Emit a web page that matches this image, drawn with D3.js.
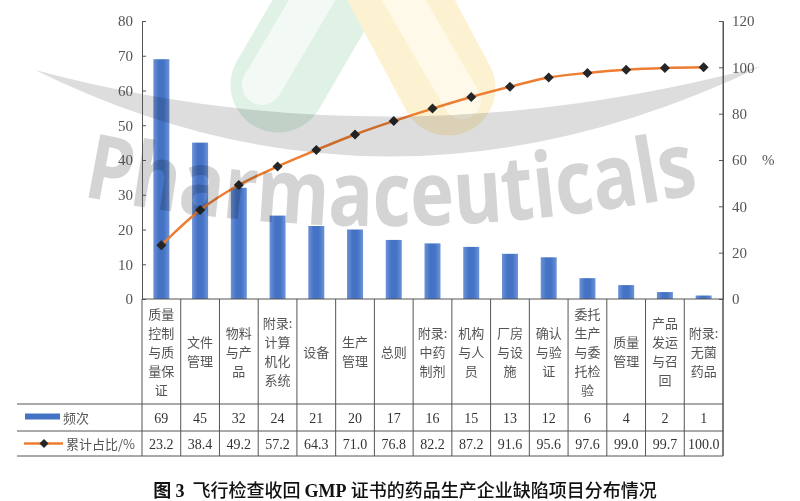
<!DOCTYPE html>
<html>
<head>
<meta charset="utf-8">
<script src="https://cdn.jsdelivr.net/npm/d3@7"></script>
<style>
  body { margin: 0; background: #fff; }
  svg { display: block; }
</style>
</head>
<body>
<div id="canvas"></div>
<script>
// category labels, already broken into the lines shown in the table
const categories = [
    ["质量", "控制", "与质", "量保", "证"],
    ["文件", "管理"],
    ["物料", "与产", "品"],
    ["附录:", "计算", "机化", "系统"],
    ["设备"],
    ["生产", "管理"],
    ["总则"],
    ["附录:", "中药", "制剂"],
    ["机构", "与人", "员"],
    ["厂房", "与设", "施"],
    ["确认", "与验", "证"],
    ["委托", "生产", "与委", "托检", "验"],
    ["质量", "管理"],
    ["产品", "发运", "与召", "回"],
    ["附录:", "无菌", "药品"]
];
const freq = [69, 45, 32, 24, 21, 20, 17, 16, 15, 13, 12, 6, 4, 2, 1];
const cumPct = [23.2, 38.4, 49.2, 57.2, 64.3, 71.0, 76.8, 82.2, 87.2, 91.6, 95.6, 97.6, 99.0, 99.7, 100.0];
const leftTicks = [0, 10, 20, 30, 40, 50, 60, 70, 80];
const rightTicks = [0, 20, 40, 60, 80, 100, 120];
const seriesNames = ["频次", "累计占比/%"];

const width = 800;
const height = 501;
const margin = { top: 21, left: 142, right: 77, bottom: 202 };
const plotRight = width - margin.right;
const plotBottom = height - margin.bottom;
const rowTop = [plotBottom, 404, 431, 456];
const tableLeft = 17;

const serif = "'Liberation Serif', 'DejaVu Serif', serif";
const cjk = "'Noto Sans CJK SC', sans-serif";

const svg = d3.select("#canvas").append("svg")
    .attr("width", width)
    .attr("height", height);

const defs = svg.append("defs");
const grad = defs.append("linearGradient").attr("id", "barGrad")
    .attr("x1", "0%").attr("x2", "100%").attr("y1", "0%").attr("y2", "0%");
grad.append("stop").attr("offset", "0%").attr("stop-color", "#6c93d8");
grad.append("stop").attr("offset", "35%").attr("stop-color", "#4472c4");
grad.append("stop").attr("offset", "65%").attr("stop-color", "#4472c4");
grad.append("stop").attr("offset", "100%").attr("stop-color", "#6c93d8");

// background logo shapes (watermark)
const wm = svg.append("g");
wm.append("line").attr("x1", 278).attr("y1", 85).attr("x2", 345).attr("y2", -30)
    .attr("stroke", "#e0f1e6").attr("stroke-width", 95).attr("stroke-linecap", "round");
wm.append("line").attr("x1", 262).attr("y1", 85).attr("x2", 318).attr("y2", -10)
    .attr("stroke", "#f3faf6").attr("stroke-width", 40).attr("stroke-linecap", "round");
wm.append("line").attr("x1", 385).attr("y1", -30).attr("x2", 448).attr("y2", 88)
    .attr("stroke", "#fcf2d2").attr("stroke-width", 95).attr("stroke-linecap", "round");
wm.append("line").attr("x1", 392).attr("y1", -20).attr("x2", 462).attr("y2", 100)
    .attr("stroke", "#fef9e8").attr("stroke-width", 38).attr("stroke-linecap", "round");

const x = d3.scaleBand()
    .domain(d3.range(categories.length))
    .range([margin.left, plotRight]);

const yL = d3.scaleLinear().domain([0, 80]).range([plotBottom, margin.top]);
const yR = d3.scaleLinear().domain([0, 120]).range([plotBottom, margin.top]);

// bars
const barW = 16;
svg.append("g").selectAll("rect").data(freq).enter().append("rect")
    .attr("x", (d, i) => x(i) + x.bandwidth() / 2 - barW / 2)
    .attr("y", d => yL(d))
    .attr("width", barW)
    .attr("height", d => yL(0) - yL(d))
    .attr("fill", "url(#barGrad)");

// cumulative line
const line = d3.line()
    .x((d, i) => x(i) + x.bandwidth() / 2)
    .y(d => yR(d))
    .curve(d3.curveMonotoneX);

svg.append("path").datum(cumPct)
    .attr("d", line)
    .attr("fill", "none")
    .attr("stroke", "#ed7d31")
    .attr("stroke-width", 2.5);

svg.append("g").selectAll("path").data(cumPct).enter().append("path")
    .attr("d", d3.symbol(d3.symbolSquare, 50))
    .attr("transform", (d, i) => `translate(${x(i) + x.bandwidth() / 2},${yR(d)}) rotate(45)`)
    .attr("fill", "#262626");

// watermark swoosh + text on top (faint)
const over = svg.append("g").style("mix-blend-mode", "multiply");
over.append("path")
    .attr("d", "M35,70 Q390,165 762,66 Q390,245 35,70 Z")
    .attr("fill", "#dddddd");
defs.append("path").attr("id", "wmPath").attr("d", "M82,196 Q390,258 705,192");
over.append("text")
    .attr("font-family", "'Open Sans', 'DejaVu Sans', sans-serif")
    .attr("font-weight", 700)
    .attr("font-size", 90)
    .attr("fill", "#d4d4d4")
    .append("textPath")
    .attr("href", "#wmPath")
    .attr("textLength", 622)
    .attr("lengthAdjust", "spacingAndGlyphs")
    .text("Pharmaceuticals");

// axes
const axisL = svg.append("g")
    .attr("transform", `translate(${margin.left},0)`)
    .call(d3.axisLeft(yL).tickValues(leftTicks).tickSizeInner(-4).tickSizeOuter(0).tickPadding(9));
const axisR = svg.append("g")
    .attr("transform", `translate(${plotRight},0)`)
    .call(d3.axisRight(yR).tickValues(rightTicks).tickSizeInner(-4).tickSizeOuter(0).tickPadding(9));

[axisL, axisR].forEach(a => {
    a.select(".domain").attr("stroke", "#555");
    a.selectAll(".tick line").attr("stroke", "#555");
    a.selectAll(".tick text")
        .attr("font-family", serif)
        .attr("font-size", 15)
        .attr("fill", "#555");
});

svg.append("text")
    .attr("x", 762).attr("y", yR(60) + 5)
    .attr("font-family", serif)
    .attr("font-size", 15)
    .attr("fill", "#555")
    .text("%");

// data table
const table = svg.append("g").attr("stroke", "#555").attr("stroke-width", 1);
table.append("line")
    .attr("x1", margin.left).attr("x2", plotRight)
    .attr("y1", plotBottom).attr("y2", plotBottom);
rowTop.slice(1).forEach(yy => {
    table.append("line")
        .attr("x1", tableLeft).attr("x2", plotRight)
        .attr("y1", yy).attr("y2", yy);
});
d3.range(categories.length + 1).forEach(i => {
    const xx = i < categories.length ? x(i) : plotRight;
    table.append("line")
        .attr("x1", xx).attr("x2", xx)
        .attr("y1", plotBottom).attr("y2", rowTop[3]);
});
table.append("line")
    .attr("x1", plotRight).attr("x2", plotRight)
    .attr("y1", margin.top).attr("y2", rowTop[3]);

// category labels
const lineH = 19;
const catMid = (rowTop[0] + rowTop[1]) / 2;
categories.forEach((lines, i) => {
    const t = svg.append("text")
        .attr("text-anchor", "middle")
        .attr("font-family", cjk)
        .attr("font-size", 13)
        .attr("fill", "#555");
    lines.forEach((s, j) => {
        t.append("tspan")
            .attr("x", x(i) + x.bandwidth() / 2)
            .attr("y", catMid + (j - (lines.length - 1) / 2) * lineH + 5)
            .text(s);
    });
});

// value rows
const row1 = (rowTop[1] + rowTop[2]) / 2 + 5;
const row2 = (rowTop[2] + rowTop[3]) / 2 + 5;
svg.append("g").selectAll("text").data(freq).enter().append("text")
    .attr("x", (d, i) => x(i) + x.bandwidth() / 2)
    .attr("y", row1)
    .attr("text-anchor", "middle")
    .attr("font-family", serif)
    .attr("font-size", 14)
    .attr("fill", "#333")
    .text(d => d);
svg.append("g").selectAll("text").data(cumPct).enter().append("text")
    .attr("x", (d, i) => x(i) + x.bandwidth() / 2)
    .attr("y", row2)
    .attr("text-anchor", "middle")
    .attr("font-family", serif)
    .attr("font-size", 14)
    .attr("fill", "#333")
    .text(d => d.toFixed(1));

// legend keys inside the table
svg.append("rect")
    .attr("x", 25).attr("y", row1 - 9)
    .attr("width", 35).attr("height", 6)
    .attr("fill", "#4472c4");
svg.append("text")
    .attr("x", 63).attr("y", row1)
    .attr("font-family", cjk).attr("font-size", 13).attr("fill", "#555")
    .text(seriesNames[0]);
svg.append("line")
    .attr("x1", 24).attr("x2", 63)
    .attr("y1", row2 - 5).attr("y2", row2 - 5)
    .attr("stroke", "#ed7d31").attr("stroke-width", 2.5);
svg.append("path")
    .attr("d", d3.symbol(d3.symbolSquare, 40))
    .attr("transform", `translate(44,${row2 - 5}) rotate(45)`)
    .attr("fill", "#262626");
svg.append("text")
    .attr("x", 66).attr("y", row2)
    .attr("font-family", cjk).attr("font-size", 13).attr("fill", "#555")
    .text(seriesNames[1]);

// caption
const title = svg.append("text")
    .attr("x", 405).attr("y", 497)
    .attr("text-anchor", "middle")
    .attr("font-family", cjk)
    .attr("font-size", 18)
    .attr("fill", "#111");
title.append("tspan").attr("font-weight", 700).text("图 ");
title.append("tspan").attr("font-family", serif).attr("font-weight", 700).text("3");
title.append("tspan").attr("font-weight", 500).text("\u00a0\u00a0飞行检查收回 ");
title.append("tspan").attr("font-family", serif).attr("font-weight", 700).text("GMP");
title.append("tspan").attr("font-weight", 500).text(" 证书的药品生产企业缺陷项目分布情况");
</script>
</body>
</html>
